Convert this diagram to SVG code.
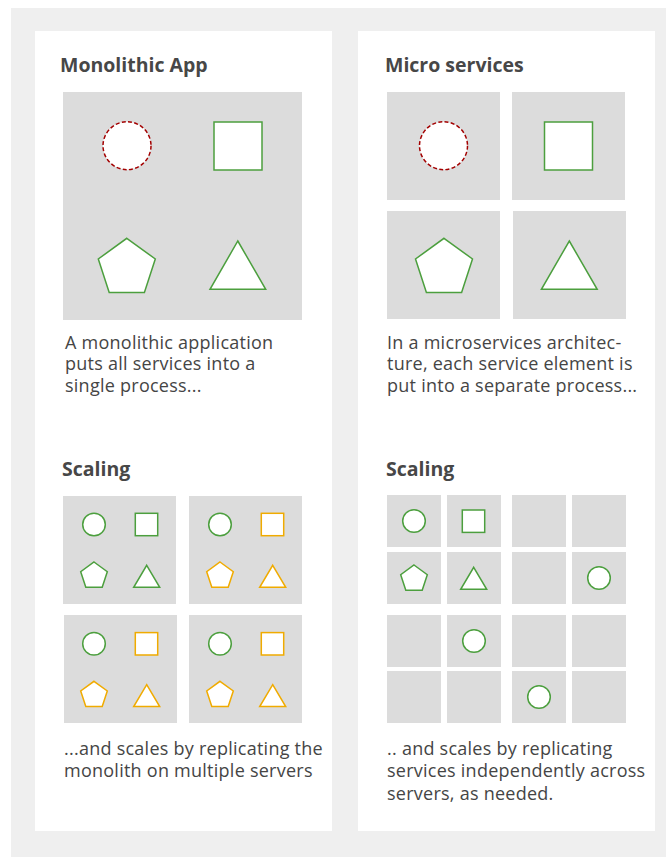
<svg xmlns="http://www.w3.org/2000/svg" xmlns:xlink="http://www.w3.org/1999/xlink" width="666" height="857" viewBox="0 0 666 857">
<style>
.bg{fill:#efefef}
.panel{fill:#ffffff}
.box{fill:#dcdcdc}
.title{font-family:"Open Sans","Liberation Sans",sans-serif;font-weight:700;font-size:19.5px;fill:#474747}
.txt{font-family:"Open Sans","Liberation Sans",sans-serif;font-size:18px;letter-spacing:0.25px;fill:#454545}
.g{fill:#ffffff;stroke:#4c9f3e;stroke-width:1.5}
.o{fill:#ffffff;stroke:#f0ab00;stroke-width:1.5}
.r{fill:#ffffff;stroke:#a30000;stroke-width:1.5;stroke-dasharray:4 2.3}
</style>
<defs>
<circle id="sc" cx="0" cy="0" r="11.3"/>
<rect id="ss" x="-11.2" y="-11.2" width="22.4" height="22.4"/>
<polygon id="sp" points="0,-14 13.3,-4.3 8.2,11.3 -8.2,11.3 -13.3,-4.3"/>
<polygon id="st" points="0,-11 13,11 -13,11"/>
</defs>
<rect class="bg" x="11" y="8" width="655" height="849"/>

<g id="monolith-panel">
<rect class="panel" x="35" y="31" width="297" height="800"/>
<text class="title" x="60" y="72">Monolithic App</text>
<g id="monolith-app">
<rect class="box" x="63" y="92" width="239" height="228"/>
<circle class="r" cx="127" cy="145.7" r="24"/>
<rect class="g" x="214" y="122" width="48" height="48"/>
<polygon class="g" points="126.8,238.3 155.3,259 144.4,292.6 109.2,292.6 98.3,259"/>
<polygon class="g" points="237.8,241 265.7,289.3 210,289.3"/>
</g>
<text class="txt" x="65" y="348.5">A monolithic application</text>
<text class="txt" x="65" y="370">puts all services into a</text>
<text class="txt" x="65" y="391.5">single process...</text>
<text class="title" x="62" y="476">Scaling</text>
<g id="mono-server-1">
<rect class="box" x="63" y="496" width="113" height="108"/>
<use href="#sc" class="g" x="94" y="524.5"/>
<use href="#ss" class="g" x="146.5" y="524.5"/>
<use href="#sp" class="g" x="94" y="576"/>
<use href="#st" class="g" x="146.7" y="576.3"/>
</g>
<g id="mono-server-2">
<rect class="box" x="189" y="496" width="113" height="108"/>
<use href="#sc" class="g" x="220" y="524.5"/>
<use href="#ss" class="o" x="272.5" y="524.5"/>
<use href="#sp" class="o" x="220" y="576"/>
<use href="#st" class="o" x="272.7" y="576.3"/>
</g>
<g id="mono-server-3">
<rect class="box" x="64" y="615" width="113" height="108"/>
<use href="#sc" class="g" x="94" y="643.8"/>
<use href="#ss" class="o" x="146.5" y="643.8"/>
<use href="#sp" class="o" x="94" y="695.3"/>
<use href="#st" class="o" x="146.7" y="695.6"/>
</g>
<g id="mono-server-4">
<rect class="box" x="189" y="615" width="113" height="108"/>
<use href="#sc" class="g" x="220" y="643.8"/>
<use href="#ss" class="o" x="272.5" y="643.8"/>
<use href="#sp" class="o" x="220" y="695.3"/>
<use href="#st" class="o" x="272.7" y="695.6"/>
</g>
<text class="txt" x="64" y="755">...and scales by replicating the</text>
<text class="txt" x="64" y="777">monolith on multiple servers</text>
</g>

<g id="micro-panel">
<rect class="panel" x="358" y="31" width="297" height="800"/>
<text class="title" x="385" y="72">Micro services</text>
<g id="micro-svc-circle">
<rect class="box" x="387" y="92" width="113" height="108"/>
<circle class="r" cx="443.5" cy="145.7" r="24"/>
</g>
<g id="micro-svc-square">
<rect class="box" x="512" y="92" width="113" height="108"/>
<rect class="g" x="544.5" y="122" width="48" height="48"/>
</g>
<g id="micro-svc-pentagon">
<rect class="box" x="387" y="211" width="113" height="108"/>
<polygon class="g" points="444,238.3 472.5,259 461.6,292.6 426.4,292.6 415.5,259"/>
</g>
<g id="micro-svc-triangle">
<rect class="box" x="513" y="211" width="113" height="108"/>
<polygon class="g" points="569.3,241 597.2,289.3 541.4,289.3"/>
</g>
<text class="txt" x="387" y="348.5">In a microservices architec-</text>
<text class="txt" x="387" y="370">ture, each service element is</text>
<text class="txt" x="387" y="391.5">put into a separate process...</text>
<text class="title" x="386" y="476">Scaling</text>
<g id="micro-servers">
<rect class="box" x="387" y="495" width="54" height="52"/>
<rect class="box" x="447" y="495" width="54" height="52"/>
<rect class="box" x="512" y="495" width="54" height="52"/>
<rect class="box" x="572" y="495" width="54" height="52"/>
<rect class="box" x="387" y="552" width="54" height="52"/>
<rect class="box" x="447" y="552" width="54" height="52"/>
<rect class="box" x="512" y="552" width="54" height="52"/>
<rect class="box" x="572" y="552" width="54" height="52"/>
<rect class="box" x="387" y="615" width="54" height="52"/>
<rect class="box" x="447" y="615" width="54" height="52"/>
<rect class="box" x="512" y="615" width="54" height="52"/>
<rect class="box" x="572" y="615" width="54" height="52"/>
<rect class="box" x="387" y="671" width="54" height="52"/>
<rect class="box" x="447" y="671" width="54" height="52"/>
<rect class="box" x="512" y="671" width="54" height="52"/>
<rect class="box" x="572" y="671" width="54" height="52"/>
<use href="#sc" class="g" x="414" y="521"/>
<use href="#ss" class="g" x="473.5" y="521.2"/>
<use href="#sp" class="g" x="414" y="579"/>
<use href="#st" class="g" x="473.7" y="578.3"/>
<use href="#sc" class="g" x="599" y="578"/>
<use href="#sc" class="g" x="474" y="641"/>
<use href="#sc" class="g" x="539" y="697"/>
</g>
<text class="txt" x="387" y="755">.. and scales by replicating</text>
<text class="txt" x="387" y="777">services independently across</text>
<text class="txt" x="387" y="799.5">servers, as needed.</text>
</g>
<g id="connectors"/>
</svg>
